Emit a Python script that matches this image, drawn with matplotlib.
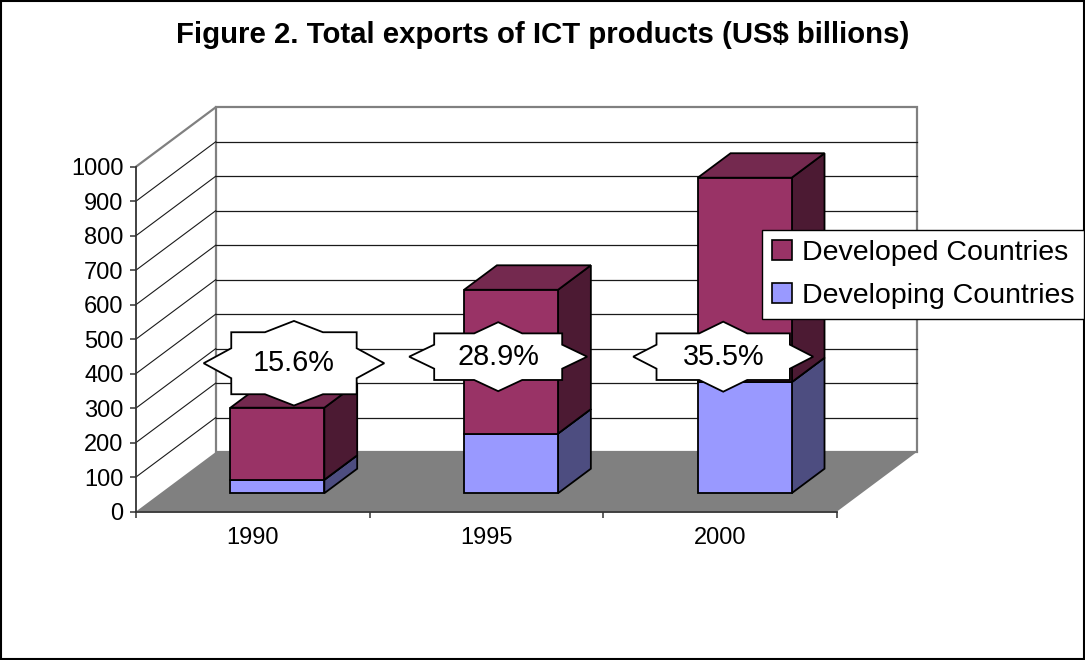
import matplotlib
matplotlib.use('Agg')
import matplotlib.pyplot as plt
from matplotlib.patches import Polygon, Rectangle, Patch

# ---------------- data ----------------
years = ['1990', '1995', '2000']
developing = [39, 173, 322]
developed = [209, 417, 593]
shares = ['15.6%', '28.9%', '35.5%']
series_names = ['Developed Countries', 'Developing Countries']
yticks = list(range(0, 1001, 100))
title = 'Figure 2. Total exports of ICT products (US$ billions)'

# ---------------- styles ----------------
col_dvd = {'front': '#993366', 'top': '#74294F', 'side': '#4C1A33'}
col_dvg = {'front': '#9999FF', 'top': '#7A7ACC', 'side': '#4D4D80'}

plt.rcParams['font.family'] = ['Liberation Sans', 'DejaVu Sans']

W, H = 1085, 660
fig = plt.figure(figsize=(W / 100, H / 100), dpi=100)
fig.patch.set_facecolor('white')

# front plane of the 3-D box (pixels)
px0, px1 = 136, 837
py0, py1 = 511.5, 166.7
ax = fig.add_axes([px0 / W, 1 - py0 / H, (px1 - px0) / W, (py0 - py1) / H])
ax.set_xlim(-0.5, 2.5)
ax.set_ylim(0, 1000)
ax.patch.set_visible(False)

# depth offset in data units
DX = 79.7 / ((px1 - px0) / 3)
DY = 59.4 / ((py0 - py1) / 1000)
xl0, xr0 = -0.5, 2.5

# side wall
ax.add_patch(Polygon([(xl0, 0), (xl0, 1000), (xl0 + DX, 1000 + DY), (xl0 + DX, DY)],
                     closed=True, fc='white', ec='none', clip_on=False, zorder=1))
# back wall
ax.add_patch(Rectangle((xl0 + DX, DY), 3, 1000, fc='white', ec='#808080', lw=1.6,
                       clip_on=False, zorder=1))
for v in yticks[1:-1]:
    ax.plot([xl0 + DX, xr0 + DX], [v + DY, v + DY], color='#1a1a1a', lw=0.9,
            clip_on=False, zorder=1.5)
    ax.plot([xl0, xl0 + DX], [v, v + DY], color='#1a1a1a', lw=0.8,
            clip_on=False, zorder=1.5)
ax.plot([xl0, xl0 + DX], [1000, 1000 + DY], color='#808080', lw=1.6,
        clip_on=False, zorder=1.6)
# floor
ax.add_patch(Polygon([(xl0, 0), (xr0, 0), (xr0 + DX, DY), (xl0 + DX, DY)],
                     closed=True, fc='#808080', ec='none', clip_on=False, zorder=2))

# bars
bw = 0.402
f0, f1 = 0.308, 0.72


def box(xc, b, t, cols):
    xl, xr = xc - bw / 2, xc + bw / 2
    front = [(xl + f0 * DX, b + f0 * DY), (xr + f0 * DX, b + f0 * DY),
             (xr + f0 * DX, t + f0 * DY), (xl + f0 * DX, t + f0 * DY)]
    side = [(xr + f0 * DX, b + f0 * DY), (xr + f1 * DX, b + f1 * DY),
            (xr + f1 * DX, t + f1 * DY), (xr + f0 * DX, t + f0 * DY)]
    top = [(xl + f0 * DX, t + f0 * DY), (xr + f0 * DX, t + f0 * DY),
           (xr + f1 * DX, t + f1 * DY), (xl + f1 * DX, t + f1 * DY)]
    for poly, key in ((side, 'side'), (top, 'top'), (front, 'front')):
        ax.add_patch(Polygon(poly, closed=True, fc=cols[key], ec='black', lw=1.3,
                             joinstyle='miter', clip_on=False, zorder=3))


for i in range(len(years)):
    box(i, 0, developing[i], col_dvg)
    box(i, developing[i], developing[i] + developed[i], col_dvd)

# axes / ticks
for s in ('top', 'right'):
    ax.spines[s].set_visible(False)
for s in ('left', 'bottom'):
    ax.spines[s].set_color('#333333')
    ax.spines[s].set_linewidth(1.3)
    ax.spines[s].set_zorder(4)
ax.set_yticks(yticks)
ax.set_yticklabels([str(v) for v in yticks])
ax.tick_params(axis='y', direction='out', length=4.5, width=1.1, color='#333333',
               pad=4.5, labelsize=17)
ax.set_xticks([-0.5, 0.5, 1.5, 2.5])
ax.set_xticklabels([])
ax.set_xticks([0, 1, 2], minor=True)
ax.set_xticklabels(years, minor=True)
ax.tick_params(axis='x', which='major', direction='out', length=4.5, width=1.1,
               color='#333333')
ax.tick_params(axis='x', which='minor', length=0, pad=11, labelsize=17)

# overlay in pixel coordinates for callouts and frame
ov = fig.add_axes([0, 0, 1, 1], zorder=5)
ov.set_xlim(0, W)
ov.set_ylim(H, 0)
ov.axis('off')
ov.patch.set_visible(False)

call_pos = [(0.176, 430), (1.05, 449), (2.013, 449)]
call_shape = [(62.7, 31, 42.3, 90.3, 29, 15),
              (64, 23.3, 34.5, 89, 24, 12),
              (66.7, 23.3, 35, 90, 24, 12)]
for (cx, cy), (hw, hh, pk, sd, pb, sb), lab in zip(call_pos, call_shape, shares):
    dx_, dy_ = ax.transData.transform((cx, cy))
    X, Y = dx_, H - dy_
    rel = [(-hw, -hh), (-pb, -hh), (0, -pk), (pb, -hh), (hw, -hh), (hw, -sb), (sd, 0),
           (hw, sb), (hw, hh), (pb, hh), (0, pk), (-pb, hh), (-hw, hh), (-hw, sb),
           (-sd, 0), (-hw, -sb)]
    ov.add_patch(Polygon([(X + a, Y + b) for a, b in rel], closed=True, fc='white',
                         ec='black', lw=1.3, joinstyle='miter', zorder=2))
    ov.text(X, Y, lab, ha='center', va='center', fontsize=20.8, zorder=3)

# outer frame
ov.add_patch(Rectangle((1, 1), W - 2, H - 2, fc='none', ec='black', lw=1.5, zorder=1))

# title
fig.text(0.5, 1 - 35 / H, title, ha='center', va='center', fontsize=21.2,
         fontweight='bold')

# legend
handles = [Patch(fc=col_dvd['front'], ec='black', lw=1.2),
           Patch(fc=col_dvg['front'], ec='black', lw=1.2)]
leg = fig.legend(handles, series_names, loc='upper left',
                 bbox_to_anchor=(762 / W, 1 - 230 / H), frameon=True, fancybox=False,
                 edgecolor='black', framealpha=1, fontsize=20.5, handlelength=0.7,
                 handleheight=0.7, handletextpad=0.35, borderpad=0.35,
                 labelspacing=0.6, borderaxespad=0)
leg.get_frame().set_linewidth(1.0)
leg.set_zorder(10)

fig.savefig('out.png', dpi=100)
